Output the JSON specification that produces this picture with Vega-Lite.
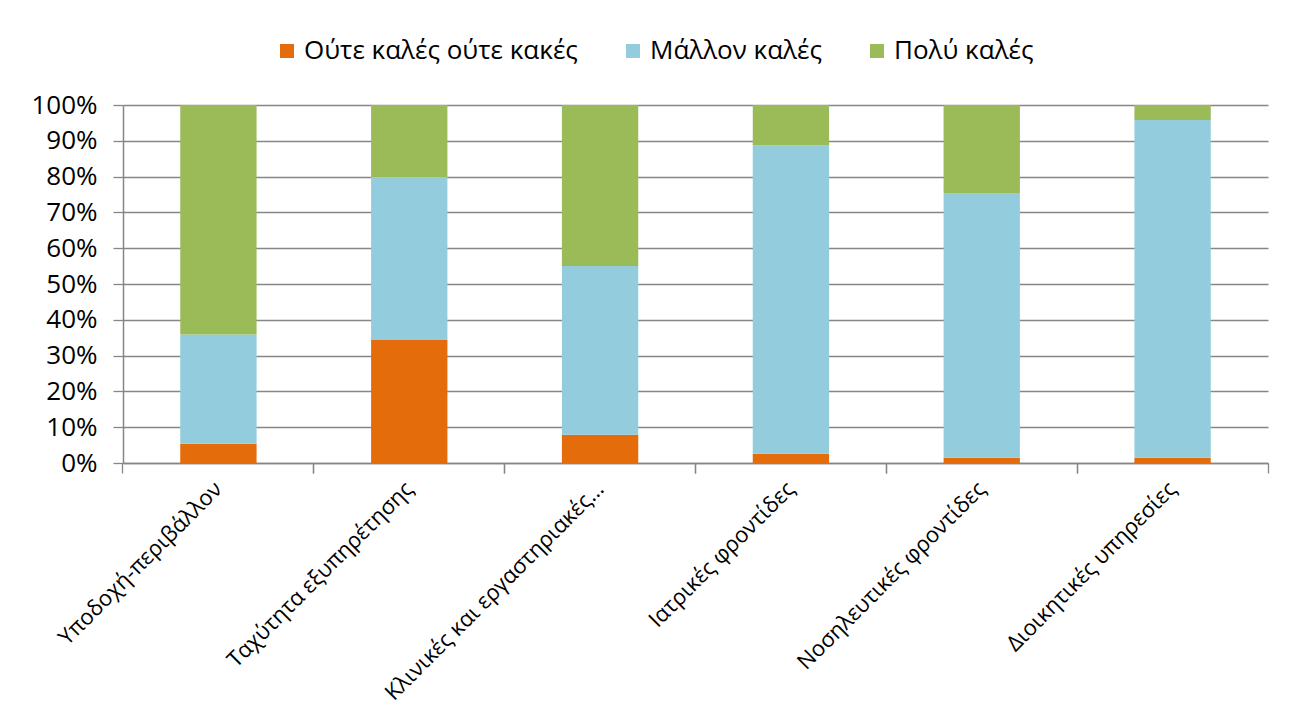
{
  "$schema": "https://vega.github.io/schema/vega-lite/v6.json",
  "autosize": {"type": "none"},
  "padding": {"left": 123, "top": 105, "right": 22, "bottom": 261},
  "width": 1145,
  "height": 358,
  "background": "white",
  "config": {
    "font": "Open Sans",
    "view": {"stroke": null},
    "axis": {"labelColor": "#000000", "labelFontSize": 26, "labelFont": "Open Sans", "titleFontSize": 26}
  },
  "data": {
    "values": [
      {"area": "Υποδοχή-περιβάλλον", "rating": "Ούτε καλές ούτε κακές", "n": 1, "pct": 5.4},
      {"area": "Υποδοχή-περιβάλλον", "rating": "Μάλλον καλές", "n": 2, "pct": 30.5},
      {"area": "Υποδοχή-περιβάλλον", "rating": "Πολύ καλές", "n": 3, "pct": 64.1},
      {"area": "Ταχύτητα εξυπηρέτησης", "rating": "Ούτε καλές ούτε κακές", "n": 1, "pct": 34.5},
      {"area": "Ταχύτητα εξυπηρέτησης", "rating": "Μάλλον καλές", "n": 2, "pct": 45.4},
      {"area": "Ταχύτητα εξυπηρέτησης", "rating": "Πολύ καλές", "n": 3, "pct": 20.1},
      {"area": "Κλινικές και εργαστηριακές…", "rating": "Ούτε καλές ούτε κακές", "n": 1, "pct": 7.9},
      {"area": "Κλινικές και εργαστηριακές…", "rating": "Μάλλον καλές", "n": 2, "pct": 47.1},
      {"area": "Κλινικές και εργαστηριακές…", "rating": "Πολύ καλές", "n": 3, "pct": 45.0},
      {"area": "Ιατρικές φροντίδες", "rating": "Ούτε καλές ούτε κακές", "n": 1, "pct": 2.6},
      {"area": "Ιατρικές φροντίδες", "rating": "Μάλλον καλές", "n": 2, "pct": 86.1},
      {"area": "Ιατρικές φροντίδες", "rating": "Πολύ καλές", "n": 3, "pct": 11.3},
      {"area": "Νοσηλευτικές φροντίδες", "rating": "Ούτε καλές ούτε κακές", "n": 1, "pct": 1.5},
      {"area": "Νοσηλευτικές φροντίδες", "rating": "Μάλλον καλές", "n": 2, "pct": 73.9},
      {"area": "Νοσηλευτικές φροντίδες", "rating": "Πολύ καλές", "n": 3, "pct": 24.6},
      {"area": "Διοικητικές υπηρεσίες", "rating": "Ούτε καλές ούτε κακές", "n": 1, "pct": 1.5},
      {"area": "Διοικητικές υπηρεσίες", "rating": "Μάλλον καλές", "n": 2, "pct": 94.3},
      {"area": "Διοικητικές υπηρεσίες", "rating": "Πολύ καλές", "n": 3, "pct": 4.2}
    ]
  },
  "resolve": {"axis": {"x": "independent"}},
  "layer": [
    {
      "mark": {"type": "bar"},
      "encoding": {
        "x": {
          "field": "area", "type": "nominal", "sort": null,
          "scale": {"paddingInner": 0.6, "paddingOuter": 0.3},
          "axis": {
            "orient": "bottom",
            "title": null, "labelAngle": -45, "labelAlign": "right", "labelBaseline": "middle",
            "labelFontSize": 22, "labelPadding": 22, "labelLimit": 500, "ticks": false,
            "domain": true, "domainColor": "#868686", "domainWidth": 1.5, "grid": false
          }
        },
        "y": {
          "field": "pct", "type": "quantitative", "stack": "normalize",
          "scale": {"domain": [0, 1]},
          "axis": {
            "title": null, "format": ".0%", "values": [0, 0.1, 0.2, 0.3, 0.4, 0.5, 0.6, 0.7, 0.8, 0.9, 1],
            "grid": true, "gridColor": "#868686", "gridWidth": 1.3,
            "domainColor": "#868686", "domainWidth": 1.5,
            "tickColor": "#868686", "tickSize": 10, "tickWidth": 1.3, "labelPadding": 16
          }
        },
        "color": {
          "field": "rating", "type": "nominal",
          "scale": {
            "domain": ["Ούτε καλές ούτε κακές", "Μάλλον καλές", "Πολύ καλές"],
            "range": ["#E46C0A", "#93CDDD", "#9BBB59"]
          },
          "legend": {
            "title": null, "orient": "none", "direction": "horizontal",
            "legendX": 151, "legendY": -67,
            "symbolType": "square", "symbolSize": 196, "symbolStrokeWidth": 0,
            "labelFontSize": 26, "labelFont": "Open Sans", "labelColor": "#000000",
            "labelOffset": 4, "columnPadding": 42, "labelLimit": 500, "padding": 0
          }
        },
        "order": {"field": "n", "type": "quantitative", "sort": "ascending"}
      }
    },
    {
      "mark": {"type": "rule", "opacity": 0},
      "encoding": {
        "x": {
          "field": "area", "type": "nominal", "sort": null,
          "axis": {
            "orient": "bottom",
            "title": null, "labels": false, "domain": false, "grid": false,
            "ticks": true, "tickSize": 10, "tickColor": "#868686", "tickWidth": 1.3, "bandPosition": -0.75
          }
        }
      }
    },
    {
      "mark": {"type": "rule", "opacity": 0},
      "encoding": {
        "x": {
          "field": "area", "type": "nominal", "sort": null,
          "axis": {
            "orient": "bottom",
            "title": null, "labels": false, "domain": false, "grid": false,
            "ticks": true, "tickSize": 10, "tickColor": "#868686", "tickWidth": 1.3, "bandPosition": 1.75
          }
        }
      }
    }
  ]
}
